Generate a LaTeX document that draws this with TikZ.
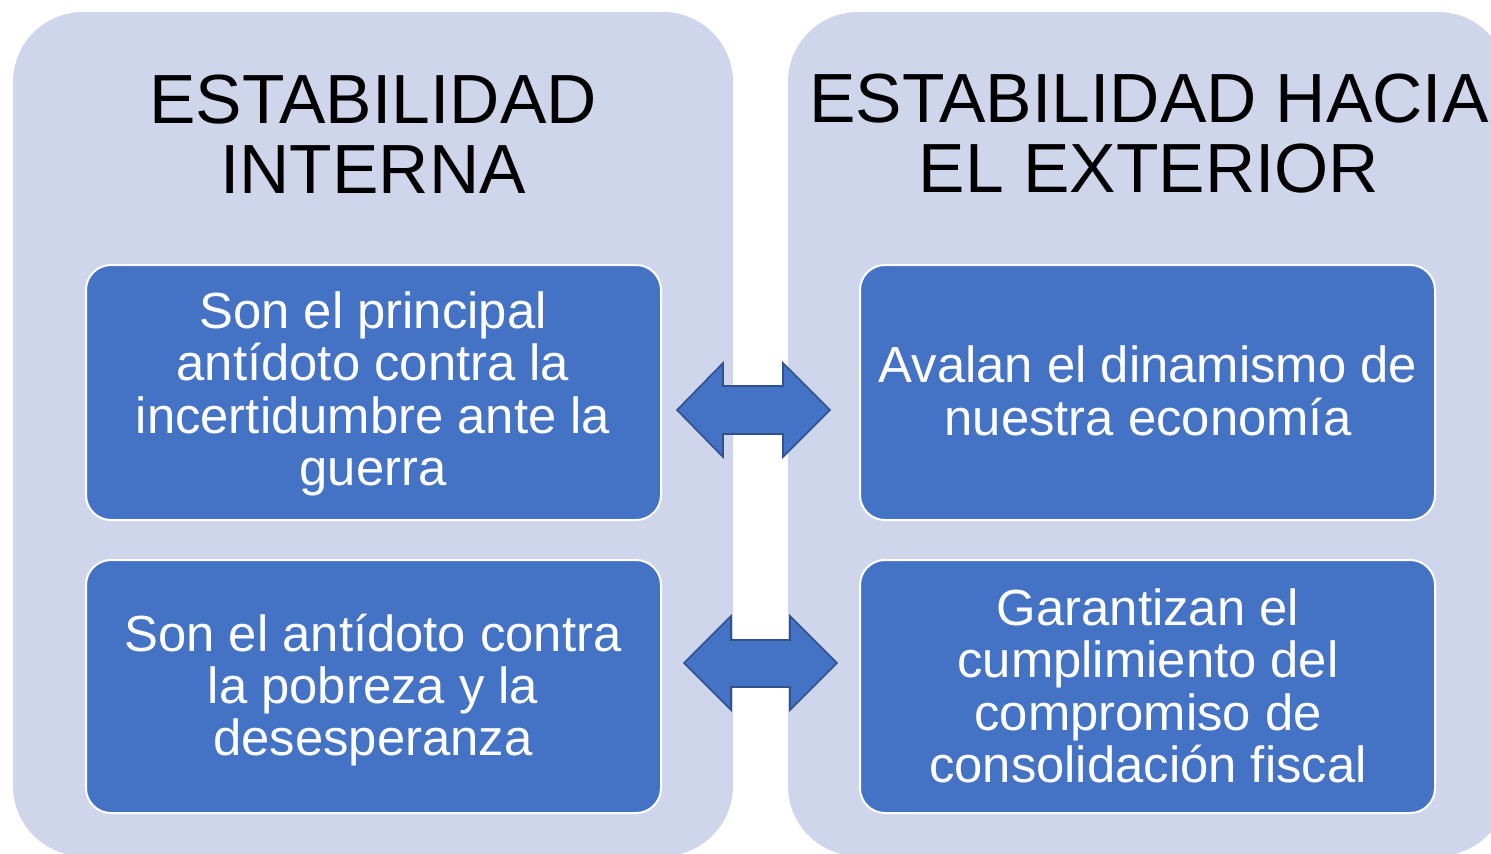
\documentclass[tikz,border=0pt]{standalone}
\usepackage{fontspec}
\setmainfont{Liberation Sans}
\usepackage{xcolor}
\usepackage{tikz}
\usetikzlibrary{calc, positioning}

\definecolor{panelbg}{HTML}{CFD5EA}
\definecolor{cajabg}{HTML}{4472C4}
\definecolor{flechaborde}{HTML}{2F528F}

\begin{document}
\begin{tikzpicture} [x = 0.5pt, y = -0.5pt,
        panel/.style = {fill=panelbg, rounded corners=35pt},
        caja/.style = {fill=cajabg, draw=white, line width=1pt, rounded corners=12.5pt},
        titulo/.style = {align=center, text=black, font=\fontsize{34.8}{35}\selectfont},
        texto/.style = {align=center, text=white, font=\fontsize{25.4}{26.2}\selectfont},
        flecha/.style = {fill=cajabg, draw=flechaborde, line width=0.8pt, line join=miter}]
        \useasboundingbox (0,0) rectangle (1491,853);
        \clip (0,0) rectangle (1491,853);
        % panels
        \fill[panel] (13,12) rectangle (733,856);
        \fill[panel] (788,12) rectangle (1508,856);
        \node[titulo] (tint) at (373,134) {ESTABILIDAD\\INTERNA};
        \node[titulo] (text) at (1149,134) {ESTABILIDAD HACIA\\EL EXTERIOR};
        % boxes
        \draw[caja] (86,265) rectangle (661,520);
        \draw[caja] (86,560) rectangle (661,813);
        \draw[caja] (860,265) rectangle (1435,520);
        \draw[caja] (860,560) rectangle (1435,813);
        \node[texto] (a1) at (373,394) {Son el principal\\ant\'{\i}doto contra la\\incertidumbre ante la\\guerra};
        \node[texto] (a2) at (373,690) {Son el ant\'{\i}doto contra\\la pobreza y la\\desesperanza};
        \node[texto] (b1) at (1148,391) {Avalan el dinamismo de\\nuestra econom\'{\i}a};
        \node[texto] (b2) at (1148,686) {Garantizan el\\cumplimiento del\\compromiso de\\consolidaci\'on fiscal};
        % double arrows
        \draw[flecha] (677,410) -- (723,363) -- (723,386) -- (783,386) -- (783,363) -- (830,410)
            -- (783,457) -- (783,434) -- (723,434) -- (723,457) -- cycle;
        \draw[flecha] (684,663) -- (731,616) -- (731,640) -- (790,640) -- (790,616) -- (837,663)
            -- (790,710) -- (790,687) -- (731,687) -- (731,710) -- cycle;
    \end{tikzpicture}
\end{document}
